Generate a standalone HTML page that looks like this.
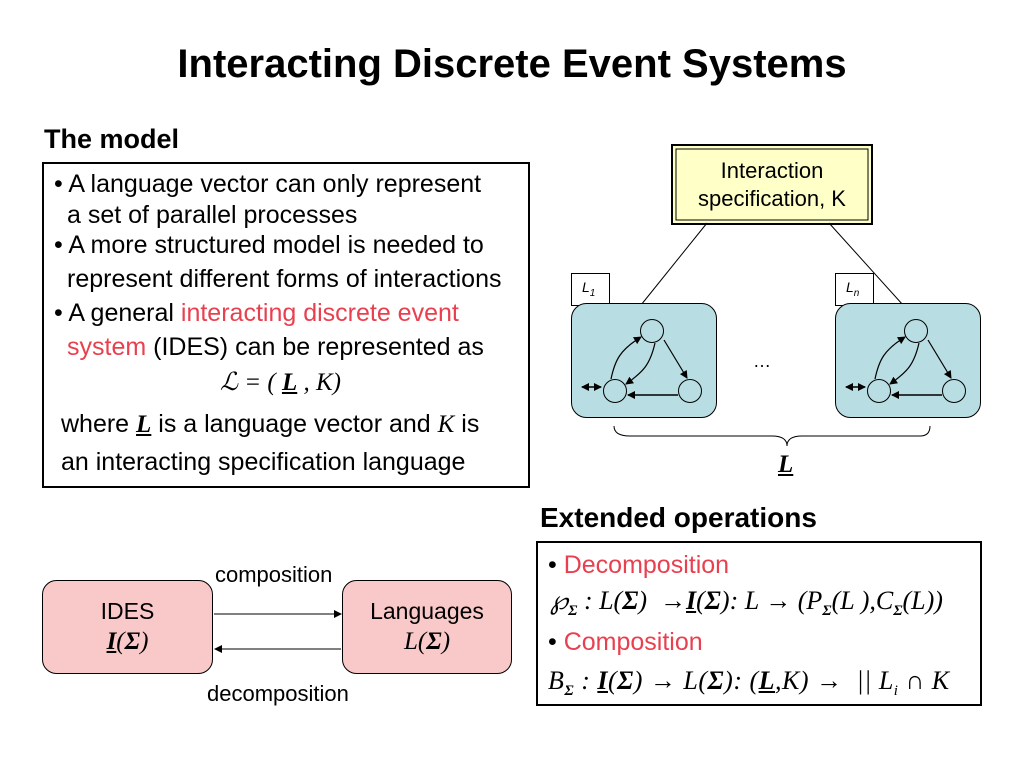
<!DOCTYPE html>
<html><head><meta charset="utf-8"><style>
body{margin:0;width:1024px;height:768px;background:#fff;position:relative;overflow:hidden;font-family:"Liberation Sans",sans-serif;color:#000}
.t{position:absolute;white-space:nowrap;line-height:1}
.s{font-size:25px}
.r{color:#e8404f}
.m{font-family:"Liberation Serif",serif;font-style:italic}
.u{text-decoration:underline;font-weight:bold}
svg{position:absolute;left:0;top:0}
</style></head><body>
<svg width="1024" height="768">
<defs><marker id="a" markerWidth="8" markerHeight="8" refX="7" refY="4" orient="auto" markerUnits="userSpaceOnUse"><path d="M0,0 L8,4 L0,8z" fill="#000"/></marker>
<marker id="b" markerWidth="8" markerHeight="8" refX="7" refY="4" orient="auto-start-reverse" markerUnits="userSpaceOnUse"><path d="M0,0 L8,4 L0,8z" fill="#000"/></marker></defs>
<rect x="43" y="163" width="486" height="324" fill="none" stroke="#000" stroke-width="2"/>
<rect x="672" y="145" width="200" height="79" fill="#ffffc8" stroke="#000" stroke-width="2"/>
<rect x="676" y="149" width="192" height="71" fill="none" stroke="#000" stroke-width="1"/>
<line x1="707" y1="223" x2="641" y2="305" stroke="#000"/>
<line x1="829" y1="223" x2="903" y2="305" stroke="#000"/>
<g id="g1">
<rect x="571.5" y="273.5" width="38" height="32" fill="#fff" stroke="#000"/>
<rect x="571.5" y="303.5" width="145" height="114" rx="15" fill="#b8dde2" stroke="#000"/>
<circle cx="652" cy="331" r="11.5" fill="#b8dde2" stroke="#000"/>
<circle cx="615" cy="391" r="11.5" fill="#b8dde2" stroke="#000"/>
<circle cx="690" cy="391" r="11.5" fill="#b8dde2" stroke="#000"/>
<path d="M611,379 C615,360 620,350 641,337" fill="none" stroke="#000" stroke-width="1.2" marker-end="url(#a)"/>
<path d="M655,343 C650,365 643,372 626,384" fill="none" stroke="#000" stroke-width="1.2" marker-end="url(#a)"/>
<line x1="664" y1="340" x2="687" y2="378" stroke="#000" stroke-width="1.2" marker-end="url(#a)"/>
<line x1="678" y1="395" x2="628" y2="395" stroke="#000" stroke-width="1.5" marker-end="url(#b)"/>
<line x1="582" y1="387" x2="601" y2="387" stroke="#000" stroke-width="1.5" marker-end="url(#b)" marker-start="url(#b)"/>
</g>
<use href="#g1" transform="translate(264,0)"/>
<path d="M614,426 Q614,436 630,436 L772,436 Q787,436 787,446 Q787,436 802,436 L920,436 Q930,436 930,426" fill="none" stroke="#000"/>
<rect x="537" y="542" width="444" height="163" fill="none" stroke="#000" stroke-width="2"/>
<rect x="42.5" y="580.5" width="170" height="93" rx="14" fill="#f9c8c8" stroke="#000"/>
<rect x="342.5" y="580.5" width="169" height="93" rx="14" fill="#f9c8c8" stroke="#000"/>
<line x1="214" y1="614" x2="341" y2="614" stroke="#000" marker-end="url(#a)"/>
<line x1="341" y1="649" x2="215" y2="649" stroke="#000" marker-end="url(#a)"/>
</svg>
<div class="t" style="left:0;width:1024px;text-align:center;top:44px;font-size:40px;font-weight:bold">Interacting Discrete Event Systems</div>
<div class="t" style="left:44px;top:126px;font-size:27px;font-weight:bold">The model</div>
<div class="t s" style="left:54px;top:172px">• A language vector can only represent</div>
<div class="t s" style="left:67px;top:203px">a set of parallel processes</div>
<div class="t s" style="left:54px;top:233px">• A more structured model is needed to</div>
<div class="t s" style="left:67px;top:267px">represent different forms of interactions</div>
<div class="t s" style="left:54px;top:301px">• A general <span class="r">interacting discrete event</span></div>
<div class="t s" style="left:67px;top:335px"><span class="r">system</span> (IDES) can be represented as</div>
<div class="t m" style="left:220px;top:370px;font-size:25px">ℒ = ( <span class="u">L</span> , K)</div>
<div class="t s" style="left:61px;top:412px">where <span class="m u">L</span> is a language vector and <span class="m">K</span> is</div>
<div class="t s" style="left:61px;top:450px">an interacting specification language</div>
<div class="t" style="left:672px;width:200px;text-align:center;top:157px;font-size:22px;line-height:28px;white-space:normal">Interaction specification, K</div>
<div class="t m" style="left:582px;top:280px;font-size:14px;font-family:'Liberation Sans',sans-serif">L<sub style="font-size:10px">1</sub></div>
<div class="t m" style="left:846px;top:280px;font-size:14px;font-family:'Liberation Sans',sans-serif">L<sub style="font-size:10px">n</sub></div>
<div class="t" style="left:753px;top:352px;font-size:18px">…</div>
<div class="t m u" style="left:778px;top:452px;font-size:25px">L</div>
<div class="t" style="left:540px;top:504px;font-size:28px;font-weight:bold">Extended operations</div>
<div class="t s" style="left:548px;top:553px">• <span class="r">Decomposition</span></div>
<div class="t m" style="left:550px;top:588px;font-size:26px">℘<sub style="font-size:15px"><b>Σ</b></sub> : L(<b>Σ</b>) &nbsp;→<span class="u">I</span>(<b>Σ</b>): L → (P<sub style="font-size:15px"><b>Σ</b></sub>(L ),C<sub style="font-size:15px"><b>Σ</b></sub>(L))</div>
<div class="t s" style="left:548px;top:630px">• <span class="r">Composition</span></div>
<div class="t m" style="left:548px;top:668px;font-size:26px;letter-spacing:0.5px">B<sub style="font-size:15px"><b>Σ</b></sub> : <span class="u">I</span>(<b>Σ</b>) → L(<b>Σ</b>): (<span class="u">L</span>,K) → &nbsp;|| L<sub style="font-size:15px">i</sub> ∩ K</div>
<div class="t" style="left:215px;top:564px;font-size:22px">composition</div>
<div class="t" style="left:207px;top:683px;font-size:22px">decomposition</div>
<div class="t" style="left:42px;width:171px;text-align:center;top:600px;font-size:23px">IDES</div>
<div class="t m" style="left:42px;width:171px;text-align:center;top:629px;font-size:25px"><span class="u">I</span>(<b>Σ</b>)</div>
<div class="t" style="left:342px;width:170px;text-align:center;top:600px;font-size:23px">Languages</div>
<div class="t m" style="left:342px;width:170px;text-align:center;top:629px;font-size:25px">L(<b>Σ</b>)</div>
</body></html>
